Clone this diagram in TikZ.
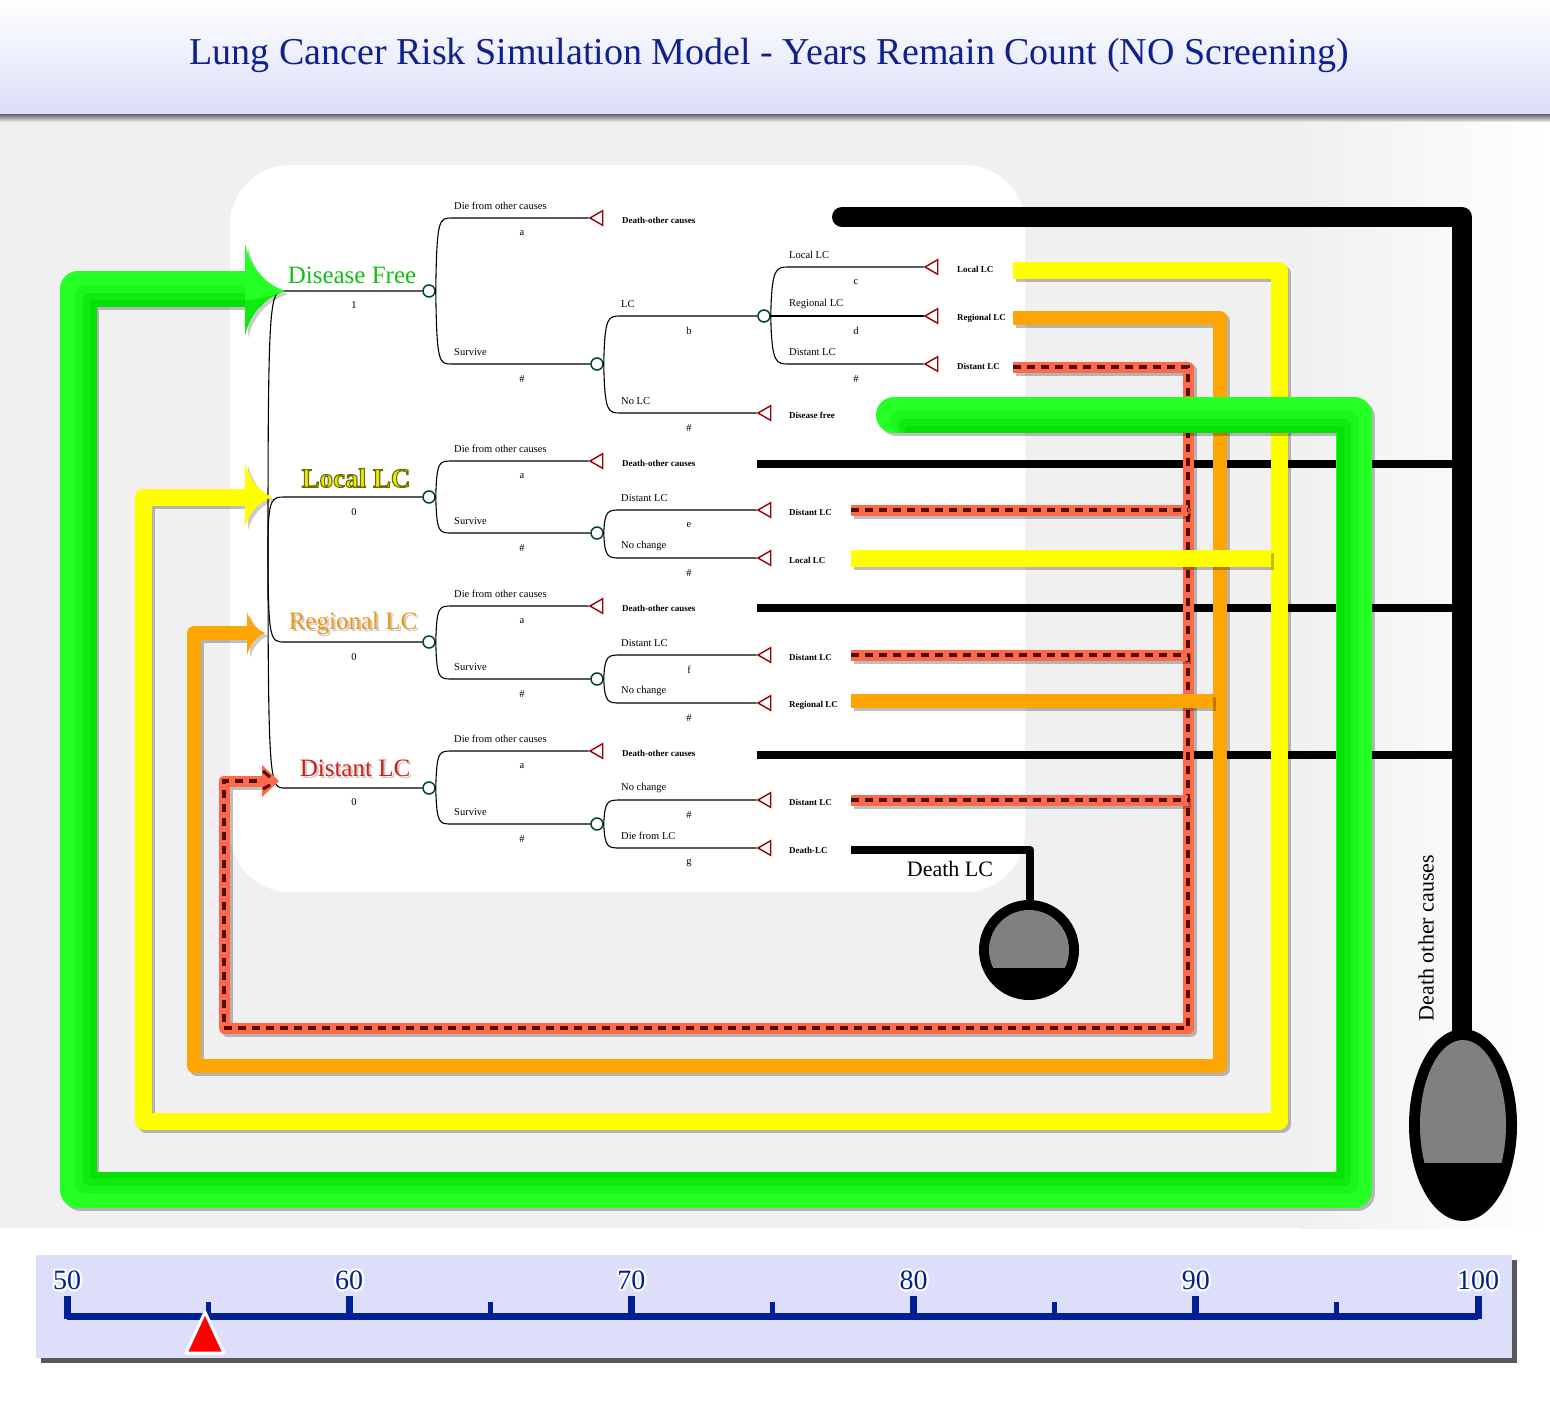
\documentclass[tikz,border=0pt]{standalone}
\usepackage{fontspec}
\setmainfont{Liberation Serif}
\usetikzlibrary{shapes.geometric}
\definecolor{cTitle}{RGB}{16,32,140}
\definecolor{cAxis}{RGB}{0,32,150}
\definecolor{cHdr}{RGB}{218,222,248}
\definecolor{cBg}{RGB}{240,240,240}
\definecolor{cLav}{RGB}{221,223,250}
\definecolor{cChance}{RGB}{0,70,40}
\definecolor{cTri}{RGB}{150,0,0}
\definecolor{cYel}{RGB}{255,255,0}
\definecolor{cOra}{RGB}{255,165,0}
\definecolor{cGrn}{RGB}{36,255,36}
\definecolor{cGrnA}{RGB}{26,246,26}
\definecolor{cGrnB}{RGB}{14,236,14}
\definecolor{cGrnC}{RGB}{5,224,5}
\definecolor{cSal}{RGB}{255,105,75}
\definecolor{cBrn}{RGB}{80,15,0}
\definecolor{cGrnTxt}{RGB}{20,190,20}
\definecolor{cYelTxt}{RGB}{235,235,0}
\definecolor{cOraTxt}{RGB}{240,150,20}
\definecolor{cRedTxt}{RGB}{210,30,20}
\definecolor{cGray}{RGB}{128,128,128}
\newcommand\tb[4]{\draw[treeline] (#1.east) .. controls +(1,#2) and +(-13,0) .. (#3) -- (#4.west);}
\newcommand\blab[6]{\node[btxt,anchor=west] (#1n) at (#2,#3-12) {#4}; \node[btxt] (#1p) at (#5,#3+15) {#6};}
\newcommand\tlab[4]{\node[ttxt] (#1) at (#2,#3+2) {#4};}
\newcommand\flowpath[2]{\draw[#1,draw=black,draw opacity=.25,shift={(3,3)}] #2; \draw[#1] #2;}
\newcommand\redpath[1]{\draw[redbase,draw=black,draw opacity=.25,shift={(3,3)}] #1; \draw[redbase] #1; \draw[redstripe] #1;}
\newcommand\olivetext[1]{\special{pdf:literal direct 2 Tr 1.1 w 0.42 0.42 0 RG}#1\special{pdf:literal direct 0 Tr}}
\newcommand\halotext[1]{\special{pdf:literal direct 1 Tr 4.5 w 1 j 1 1 1 RG}#1\special{pdf:literal direct 0 Tr}}
\newcommand\grnband[2]{\draw[#1,line width=#2,line join=round,line cap=round] (912-#2/2,433-#2/2) -- (1337+#2/2,433-#2/2) -- (1337+#2/2,1172+#2/2) -- (97-#2/2,1172+#2/2) -- (97-#2/2,307-#2/2) -- (247,307-#2/2);}
\begin{document}
\begin{tikzpicture}[x=1pt,y=-1pt,
  treeline/.style={draw=black,line width=1.1pt},
  chance/.style={circle,draw=cChance,line width=1.5pt,fill=white,minimum size=12pt,inner sep=0pt},
  term/.style={regular polygon,regular polygon sides=3,shape border rotate=90,draw=cTri,line width=1.4pt,fill=white,minimum size=17pt,inner sep=0pt},
  btxt/.style={font=\fontsize{10.5}{12}\selectfont,inner sep=0pt},
  ttxt/.style={font=\fontsize{9}{11}\selectfont\bfseries,inner sep=0pt,anchor=west},
  bigtxt/.style={font=\fontsize{25}{28}\selectfont,inner sep=0pt},
  numtxt/.style={font=\fontsize{28}{30}\selectfont,inner sep=0pt},
  yelline/.style={draw=cYel,line width=17pt,line join=round},
  oraline/.style={draw=cOra,line width=14pt,line join=round},
  grnline/.style={draw=cGrn,line width=36pt,line join=round,line cap=round},
  redbase/.style={draw=cSal,line width=11pt,line join=round},
  redstripe/.style={draw=cBrn,line width=4.5pt,dash pattern=on 8pt off 6pt},
  blkline/.style={draw=black,line width=8pt},
]
\useasboundingbox (0,0) rectangle (1550,1402);
% backgrounds
\fill[white] (0,0) rectangle (1550,1402);
\fill[cBg] (0,118) rectangle (1300,1228);
\shade[left color=cBg,right color=white] (1300,118) rectangle (1550,1228);
\shade[top color=white,bottom color=cHdr] (0,0) rectangle (1550,115);
\shade[top color=black!55,bottom color=cBg] (0,115) rectangle (1550,122);
\fill[white,rounded corners=60pt] (230,165) rectangle (1025,892);

\node[font=\fontsize{38}{44}\selectfont,text=cTitle] (title) at (769,55) {Lung Cancer Risk Simulation Model - Years Remain Count (NO Screening)};

% ---------------- tree ----------------
\coordinate (root) at (268,545);
\node[chance] (cDF) at (429,291) {};
\node[chance] (cL) at (429,497) {};
\node[chance] (cR) at (429,642) {};
\node[chance] (cD) at (429,788) {};
\draw[treeline] (root) .. controls +(0,-254) and +(-15,0) .. (285,291) -- (cDF.west);
\draw[treeline] (root) .. controls +(0,-48) and +(-13,0) .. (285,497) -- (cL.west);
\draw[treeline] (root) .. controls +(0,97) and +(-15,0) .. (285,642) -- (cR.west);
\draw[treeline] (root) .. controls +(0,243) and +(-15,0) .. (285,788) -- (cD.west);

\node[bigtxt,text=cGrnTxt] (hDF) at (352,275) {Disease Free};
\node[bigtxt,font=\fontsize{27}{30}\selectfont\bfseries,text=cYelTxt] (hL) at (356,478) {\olivetext{Local LC}};
\node[bigtxt,text=black!35,opacity=.6] (hRs) at (355,626) {Regional LC};
\node[bigtxt,text=cOraTxt] (hR) at (353,624) {Regional LC};
\node[bigtxt,text=black!35,opacity=.6] (hDs) at (357,770) {Distant LC};
\node[bigtxt,text=cRedTxt] (hD) at (355,768) {Distant LC};
\node[btxt] (pDF) at (354,305) {1};
\node[btxt] (pL) at (354,512) {0};
\node[btxt] (pR) at (354,657) {0};
\node[btxt] (pD) at (354,802) {0};

% Disease free subtree
\node[term] (tDF1) at (598.5,218) {};
\node[chance] (cDF2) at (597,364) {};
\node[chance] (cDF3) at (764,316) {};
\node[term] (tDF2) at (766.5,413) {};
\node[term] (tDF3a) at (933.5,267) {};
\node[term] (tDF3b) at (933.5,316) {};
\node[term] (tDF3c) at (933.5,364) {};
\tb{cDF}{-73}{452,218}{tDF1}
\tb{cDF}{73}{452,364}{cDF2}
\tb{cDF2}{-48}{621,316}{cDF3}
\tb{cDF2}{49}{621,413}{tDF2}
\tb{cDF3}{-49}{789,267}{tDF3a}
\tb{cDF3}{0}{789,316}{tDF3b}
\tb{cDF3}{48}{789,364}{tDF3c}
\blab{b1}{454}{218}{Die from other causes}{522}{a}
\blab{b2}{454}{364}{Survive}{522}{\#}
\blab{b3}{621}{316}{LC}{689}{b}
\blab{b4}{621}{413}{No LC}{689}{\#}
\blab{b5}{789}{267}{Local LC}{856}{c}
\blab{b6}{789}{316}{Regional LC}{856}{d}
\blab{b7}{789}{364}{Distant LC}{856}{\#}
\tlab{l1}{622}{218}{Death-other causes}
\tlab{l2}{789}{413}{Disease free}
\tlab{l3}{957}{267}{Local LC}
\tlab{l4}{957}{316}{Regional LC}
\tlab{l5}{957}{364}{Distant LC}

% Local LC subtree
\node[term] (tL1) at (598.5,461) {};
\node[chance] (cL2) at (597,533) {};
\node[term] (tL2a) at (766.5,510) {};
\node[term] (tL2b) at (766.5,558) {};
\tb{cL}{-36}{452,461}{tL1}
\tb{cL}{36}{452,533}{cL2}
\tb{cL2}{-23}{621,510}{tL2a}
\tb{cL2}{25}{621,558}{tL2b}
\blab{b8}{454}{461}{Die from other causes}{522}{a}
\blab{b9}{454}{533}{Survive}{522}{\#}
\blab{b10}{621}{510}{Distant LC}{689}{e}
\blab{b11}{621}{558}{No change}{689}{\#}
\tlab{l6}{622}{461}{Death-other causes}
\tlab{l7}{789}{510}{Distant LC}
\tlab{l8}{789}{558}{Local LC}

% Regional LC subtree
\node[term] (tR1) at (598.5,606) {};
\node[chance] (cR2) at (597,679) {};
\node[term] (tR2a) at (766.5,655) {};
\node[term] (tR2b) at (766.5,703) {};
\tb{cR}{-36}{452,606}{tR1}
\tb{cR}{37}{452,679}{cR2}
\tb{cR2}{-24}{621,655}{tR2a}
\tb{cR2}{24}{621,703}{tR2b}
\blab{b12}{454}{606}{Die from other causes}{522}{a}
\blab{b13}{454}{679}{Survive}{522}{\#}
\blab{b14}{621}{655}{Distant LC}{689}{f}
\blab{b15}{621}{703}{No change}{689}{\#}
\tlab{l9}{622}{606}{Death-other causes}
\tlab{l10}{789}{655}{Distant LC}
\tlab{l11}{789}{703}{Regional LC}

% Distant LC subtree
\node[term] (tD1) at (598.5,751) {};
\node[chance] (cD2) at (597,824) {};
\node[term] (tD2a) at (766.5,800) {};
\node[term] (tD2b) at (766.5,848) {};
\tb{cD}{-37}{452,751}{tD1}
\tb{cD}{36}{452,824}{cD2}
\tb{cD2}{-24}{621,800}{tD2a}
\tb{cD2}{24}{621,848}{tD2b}
\blab{b16}{454}{751}{Die from other causes}{522}{a}
\blab{b17}{454}{824}{Survive}{522}{\#}
\blab{b18}{621}{800}{No change}{689}{\#}
\blab{b19}{621}{848}{Die from LC}{689}{g}
\tlab{l12}{622}{751}{Death-other causes}
\tlab{l13}{789}{800}{Distant LC}
\tlab{l14}{789}{848}{Death-LC}

% ---------------- flows ----------------
% death other causes (black)
\draw[blkline] (757,464) -- (1462,464);
\draw[blkline] (757,608) -- (1462,608);
\draw[blkline] (757,755) -- (1462,755);
\draw[draw=black,line width=20pt,line join=round,line cap=round] (842,217) -- (1462,217) -- (1462,1040);
\node[font=\fontsize{22}{24}\selectfont,rotate=90] (doc) at (1426,938) {Death other causes};
\fill[black] (1463,1125) ellipse [x radius=54pt,y radius=96pt];
\begin{scope}
\clip (1400,1000) rectangle (1530,1162);
\fill[cGray] (1463,1125) ellipse [x radius=43pt,y radius=85pt];
\end{scope}

% death LC
\draw[blkline,line join=round] (851,850) -- (1030,850) -- (1030,905);
\node[font=\fontsize{22}{24}\selectfont] (dlc) at (950,869) {Death LC};
\fill[black] (1029,950) circle[radius=50pt];
\begin{scope}
\clip (960,880) rectangle (1100,967);
\fill[cGray] (1029,950) circle[radius=40pt];
\end{scope}

% distant LC (red striped)
\redpath{(1013,367) -- (1188,367) -- (1188,1028) -- (224,1028) -- (224,781) -- (264,781)}
\redpath{(851,510) -- (1188,510)}
\redpath{(851,655) -- (1188,655)}
\redpath{(851,800) -- (1188,800)}
\fill[cSal] (262,765) -- (279,781) -- (262,797) -- cycle;
\draw[cBrn,line width=3pt] (263,771) -- (270,777);
\draw[cBrn,line width=3pt] (263,789) -- (270,785);

% regional LC (orange)
\flowpath{oraline}{(1013,318) -- (1220,318) -- (1220,1066) -- (194,1066) -- (194,633) -- (250,633)}
\flowpath{oraline}{(851,701) -- (1213,701)}
\fill[black,opacity=.2] (250,615) .. controls (254,626) and (259,632) .. (268,636) .. controls (259,640) and (254,646) .. (250,658) -- cycle;
\fill[cOra] (247,612) .. controls (251,623) and (256,629) .. (265,633) .. controls (256,637) and (251,643) .. (247,655) -- cycle;

% local LC (yellow)
\flowpath{yelline}{(1013,270) -- (1279,270) -- (1279,1121) -- (143,1121) -- (143,497) -- (248,497)}
\flowpath{yelline}{(851,558) -- (1271,558)}
\fill[black,opacity=.2] (248,466) .. controls (253,482) and (261,494) .. (275,500) .. controls (261,506) and (253,514) .. (248,530) -- cycle;
\fill[cYel] (245,463) .. controls (250,479) and (258,491) .. (272,497) .. controls (258,503) and (250,511) .. (245,527) -- cycle;

% disease free (green)
\flowpath{grnline}{(894,415) -- (1354,415) -- (1354,1190) -- (78,1190) -- (78,289) -- (247,289)}
\grnband{cGrnA}{22}
\grnband{cGrnB}{14}
\grnband{cGrnC}{7}
\fill[black,opacity=.2] (248,247) .. controls (253,268) and (265,286) .. (288,294) .. controls (265,302) and (253,318) .. (248,338) -- cycle;
\fill[cGrn] (245,244) .. controls (250,265) and (262,283) .. (285,291) .. controls (262,299) and (250,315) .. (245,335) -- cycle;
\fill[cGrnB] (245,300) .. controls (258,300) and (270,296) .. (285,291) .. controls (262,299) and (250,315) .. (245,335) -- cycle;

% ---------------- timeline ----------------
\fill[black!65] (41,1260) rectangle (1517,1363);
\fill[cLav] (36,1255) rectangle (1512,1358);
\draw[cAxis,line width=7pt] (67,1316) -- (1478,1316);
\foreach \i/\lab in {0/50,1/60,2/70,3/80,4/90,5/100}{
  \draw[cAxis,line width=7pt] (67+282.2*\i,1296) -- (67+282.2*\i,1319);
  \node[numtxt,text=white] (h\lab) at (67+282.2*\i,1280) {\halotext{\lab}};
  \node[numtxt,text=cAxis] (n\lab) at (67+282.2*\i,1280) {\lab};
}
\foreach \i in {0,...,4}{
  \draw[cAxis,line width=5pt] (208.1+282.2*\i,1302) -- (208.1+282.2*\i,1316);
}
\draw[white,line width=3pt,fill=red,line join=round] (205,1312) -- (224,1353) -- (186,1353) -- cycle;
\end{tikzpicture}
\end{document}
